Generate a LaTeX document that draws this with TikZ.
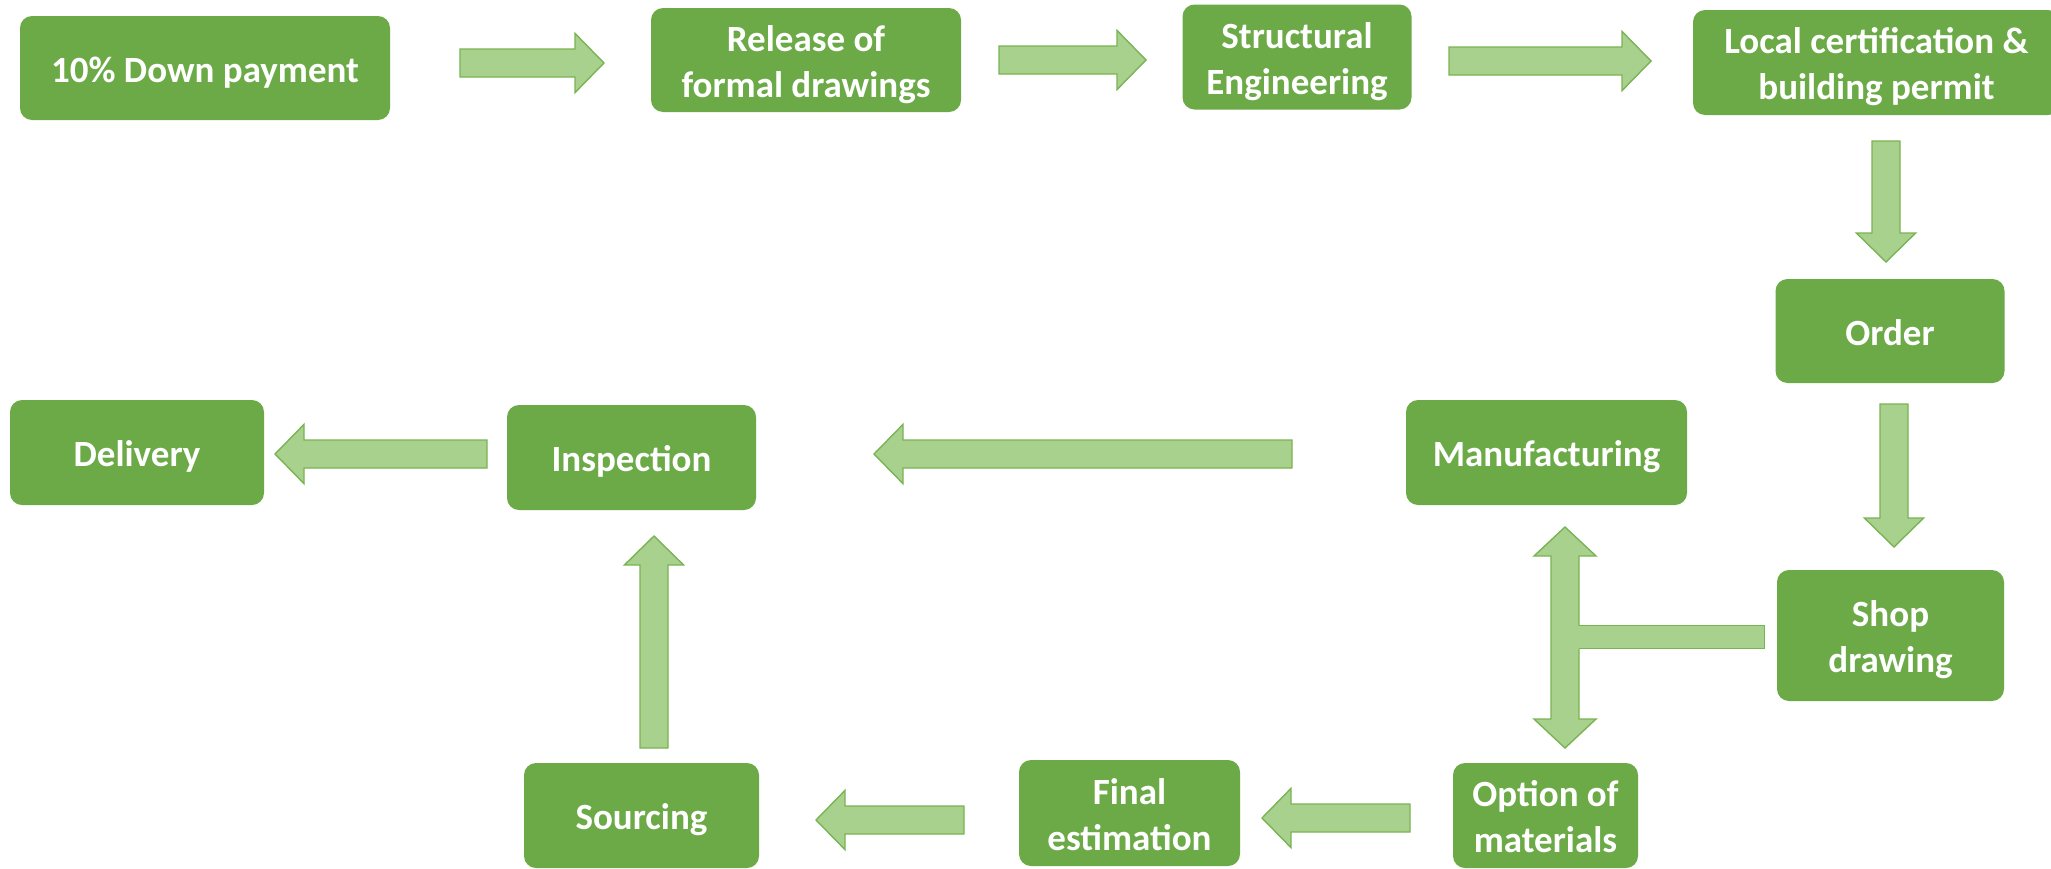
\documentclass[tikz,border=0pt]{standalone}
\usepackage{fontspec}
\setmainfont{Carlito}
\usetikzlibrary{calc}
\definecolor{boxgreen}{HTML}{6BAA46}
\definecolor{arrowfill}{HTML}{A9D18E}
\definecolor{arrowline}{HTML}{78B453}
\newcommand\lowtext[1]{\raisebox{-2.5pt}[\height][\depth]{\begin{tabular}{@{}c@{}}#1\end{tabular}}}
\tikzset{
  box/.style={fill=boxgreen, rounded corners=6pt, text=white,
    font=\bfseries\fontsize{18.5}{23}\selectfont, align=center, inner sep=0pt},
  arrowstyle/.style={fill=arrowfill, draw=arrowline, line width=0.7pt, line join=miter},
}
\newcommand\blkarrow[2]{%
  \draw[arrowstyle] let \p1=(#1), \p2=(#2), \p3=($(\p2)!14.5pt!(\p1)$) in
    ($(\p1)!7pt!90:(\p2)$) -- ($(\p3)!7pt!-90:(\p1)$) -- ($(\p3)!14.8pt!-90:(\p1)$)
    -- (\p2) -- ($(\p3)!14.8pt!90:(\p1)$) -- ($(\p3)!7pt!90:(\p1)$)
    -- ($(\p1)!7pt!-90:(\p2)$) -- cycle;}
\newcommand\dblarrow[2]{%
  \draw[arrowstyle] let \p1=(#1), \p2=(#2), \p3=($(\p2)!14.5pt!(\p1)$), \p4=($(\p1)!14.5pt!(\p2)$) in
    (\p1) -- ($(\p4)!15.5pt!90:(\p2)$) -- ($(\p4)!7pt!90:(\p2)$)
    -- ($(\p3)!7pt!-90:(\p1)$) -- ($(\p3)!15.5pt!-90:(\p1)$) -- (\p2)
    -- ($(\p3)!15.5pt!90:(\p1)$) -- ($(\p3)!7pt!90:(\p1)$)
    -- ($(\p4)!7pt!-90:(\p2)$) -- ($(\p4)!15.5pt!-90:(\p2)$) -- cycle;}
\begin{document}
\begin{tikzpicture}[x=0.5pt,y=-0.5pt]
\useasboundingbox (0,0) rectangle (2051,868);
\fill[white] (0,0) rectangle (2051,868);
% boxes
\node[box, minimum width=185pt, minimum height=52pt] (down) at (205,68) {\lowtext{10\% Down payment}};
\node[box, minimum width=155pt, minimum height=52pt] (rel) at (806,60) {\lowtext{Release of\\formal drawings}};
\node[box, minimum width=114.5pt, minimum height=52.5pt] (str) at (1297,57) {\lowtext{Structural\\Engineering}};
\node[box, minimum width=183.5pt, minimum height=52.5pt] (loc) at (1876.5,62.5) {\lowtext{Local certification \&\\building permit}};
\node[box, minimum width=114.5pt, minimum height=52pt] (order) at (1890,331) {\lowtext{Order}};
\node[box, minimum width=113.5pt, minimum height=65.5pt] (shop) at (1890.5,635.5) {\lowtext{Shop\\drawing}};
\node[box, minimum width=140.5pt, minimum height=52.5pt] (manu) at (1546.5,452.5) {\lowtext{Manufacturing}};
\node[box, minimum width=92.5pt, minimum height=52.5pt] (opt) at (1545.5,815.5) {\lowtext{Option of\\materials}};
\node[box, minimum width=110.5pt, minimum height=53pt] (fin) at (1129.5,813) {\lowtext{Final\\estimation}};
\node[box, minimum width=117.5pt, minimum height=52.5pt] (src) at (641.5,815.5) {\lowtext{Sourcing}};
\node[box, minimum width=124.5pt, minimum height=52.5pt] (insp) at (631.5,457.5) {\lowtext{Inspection}};
\node[box, minimum width=127pt, minimum height=52.5pt] (del) at (137,452.5) {\lowtext{Delivery}};
% arrow end points
\coordinate (a1s) at (460,63);   \coordinate (a1e) at (604,63);
\coordinate (a2s) at (999,60);   \coordinate (a2e) at (1146,60);
\coordinate (a3s) at (1449,61);  \coordinate (a3e) at (1651,61);
\coordinate (a4s) at (1886,141); \coordinate (a4e) at (1886,262);
\coordinate (a5s) at (1894,404); \coordinate (a5e) at (1894,547);
\coordinate (a6s) at (1292,454); \coordinate (a6e) at (874,454);
\coordinate (a7s) at (487,454);  \coordinate (a7e) at (275,454);
\coordinate (a8s) at (1410,818); \coordinate (a8e) at (1262,818);
\coordinate (a9s) at (964,820);  \coordinate (a9e) at (816,820);
\coordinate (a10s) at (654,748); \coordinate (a10e) at (654,536);
\coordinate (dtop) at (1565,527); \coordinate (dbot) at (1565,748);
\coordinate (tj) at ($(shop.west)+(-12,1.5)$);
% arrows
\blkarrow{a1s}{a1e}
\blkarrow{a2s}{a2e}
\blkarrow{a3s}{a3e}
\blkarrow{a4s}{a4e}
\blkarrow{a5s}{a5e}
\blkarrow{a6s}{a6e}
\blkarrow{a7s}{a7e}
\blkarrow{a8s}{a8e}
\blkarrow{a9s}{a9e}
\blkarrow{a10s}{a10e}
\dblarrow{dtop}{dbot}
\fill[arrowfill] ($(dtop|-tj)+(12,-11.5)$) rectangle ($(tj)+(0,11.5)$);
\draw[arrowline, line width=0.7pt, line join=miter]
  ($(dtop|-tj)+(14,-11.5)$) -- ($(tj)+(0,-11.5)$) -- ($(tj)+(0,11.5)$) -- ($(dtop|-tj)+(14,11.5)$);
\end{tikzpicture}
\end{document}
